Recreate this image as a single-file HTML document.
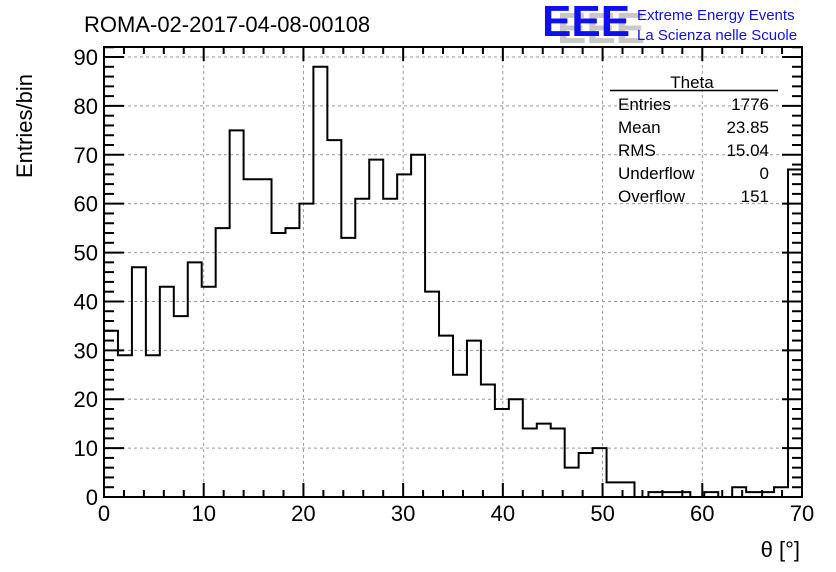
<!DOCTYPE html>
<html><head><meta charset="utf-8"><style>
html,body{margin:0;padding:0;background:#fff;}
svg{display:block;font-family:"Liberation Sans",sans-serif;}
</style></head><body>
<svg id="c" width="836" height="572">
<text x="84" y="32" font-size="22">ROMA-02-2017-04-08-00108</text>
<g>
<text x="550" y="40" font-size="44" fill="#c8c8c8" font-weight="bold" transform="translate(7,3)">EEE</text>
<text x="542" y="36" font-size="44" fill="#1010ee" font-weight="bold">EEE</text>
<text x="637" y="20" font-size="15" fill="#1010ee">Extreme Energy Events</text>
<text x="637" y="40" font-size="15" fill="#1010ee">La Scienza nelle Scuole</text>
</g>
<g id="grid"></g><g id="hist"></g><g id="axes"></g>
<g font-size="17">
<text x="692" y="88" text-anchor="middle">Theta</text>
<line x1="610" y1="90.5" x2="778" y2="90.5" stroke="#000" stroke-width="1.5"/>
<text x="618" y="110">Entries</text><text x="769" y="110" text-anchor="end">1776</text>
<text x="618" y="133">Mean</text><text x="769" y="133" text-anchor="end">23.85</text>
<text x="618" y="156">RMS</text><text x="769" y="156" text-anchor="end">15.04</text>
<text x="618" y="179">Underflow</text><text x="769" y="179" text-anchor="end">0</text>
<text x="618" y="202">Overflow</text><text x="769" y="202" text-anchor="end">151</text>
</g>
<text x="800" y="557" font-size="22" text-anchor="end">θ [°]</text>
<text transform="translate(32,178) rotate(-90)" font-size="22">Entries/bin</text>
</svg>
<script>
const counts=[34,29,47,29,43,37,48,43,55,75,65,65,54,55,60,88,73,53,61,69,61,66,70,42,33,25,32,23,18,20,14,15,14,6,9,10,3,3,0,1,1,1,0,1,0,2,1,1,2,67];
const xTicks=[0,10,20,30,40,50,60,70];
const yTicks=[0,10,20,30,40,50,60,70,80,90];
const X0=104,X1=802,Y0=497,Y1=47,xmin=0,xmax=70,ymax=92.05,binW=1.4;
const sx=v=>X0+(v-xmin)/(xmax-xmin)*(X1-X0);
const sy=v=>Y0-v/ymax*(Y0-Y1);
const NS="http://www.w3.org/2000/svg";
function mk(p,t,a){const e=document.createElementNS(NS,t);for(const k in a)e.setAttribute(k,a[k]);p.appendChild(e);return e;}
const grid=document.getElementById('grid'),axes=document.getElementById('axes'),hist=document.getElementById('hist');
xTicks.forEach(t=>{if(t>xmin&&t<xmax){const l=mk(grid,'line',{x1:sx(t),x2:sx(t),y1:Y1,y2:Y0,stroke:'#999','stroke-dasharray':'3,3'});

}});
yTicks.forEach(t=>{if(t>0){const l=mk(grid,'line',{x1:X0,x2:X1,y1:sy(t),y2:sy(t),stroke:'#999','stroke-dasharray':'3,3'});

}});
let d='M'+sx(0)+','+sy(0);
counts.forEach((c,i)=>{d+=' L'+sx(i*binW)+','+sy(c)+' L'+sx((i+1)*binW)+','+sy(c);});
d+=' L'+sx(counts.length*binW)+','+sy(0);
const p=mk(hist,'path',{d:d,fill:'none',stroke:'#000','stroke-width':2});


const fr=mk(axes,'rect',{x:X0,y:Y1,width:X1-X0,height:Y0-Y1,fill:'none',stroke:'#000','stroke-width':2});


for(let v=0;v<=70;v+=2){const maj=v%10===0,L=maj?14:7;
mk(axes,'line',{x1:sx(v),x2:sx(v),y1:Y0,y2:Y0-L,stroke:'#000','stroke-width':2});
mk(axes,'line',{x1:sx(v),x2:sx(v),y1:Y1,y2:Y1+L,stroke:'#000','stroke-width':2});}
for(let v=0;v<=92;v+=2){const maj=v%10===0,L=maj?20:10;
mk(axes,'line',{x1:X0,x2:X0+L,y1:sy(v),y2:sy(v),stroke:'#000','stroke-width':2});
mk(axes,'line',{x1:X1,x2:X1-L,y1:sy(v),y2:sy(v),stroke:'#000','stroke-width':2});}
xTicks.forEach(t=>{const e=mk(axes,'text',{x:sx(t),y:521,'font-size':22,'text-anchor':'middle'});e.textContent=t;

});
yTicks.forEach(t=>{const e=mk(axes,'text',{x:X0-6,y:sy(t)+8,'font-size':22,'text-anchor':'end'});e.textContent=t;

});
</script>
</body></html>
